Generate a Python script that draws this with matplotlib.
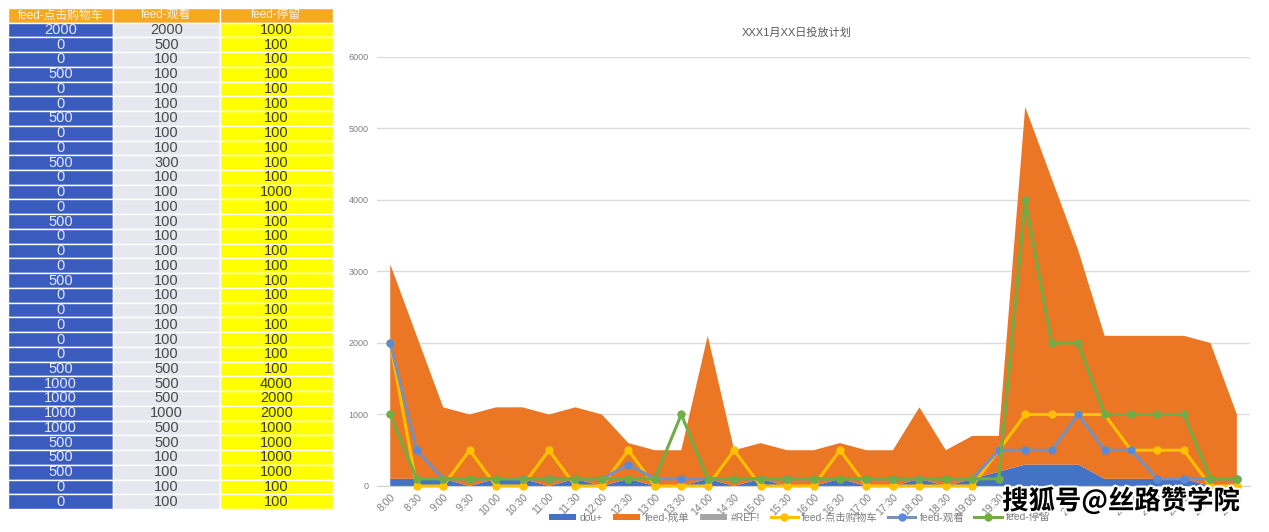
import numpy as np
import matplotlib
matplotlib.use('Agg')
import matplotlib.pyplot as plt
import matplotlib.patheffects as pe

plt.rcParams['font.family'] = ['Liberation Sans', 'Noto Sans CJK SC', 'DejaVu Sans']

# time slots, 8:00 .. 24:00 every half hour
times = ['8:00', '8:30', '9:00', '9:30', '10:00', '10:30', '11:00', '11:30',
         '12:00', '12:30', '13:00', '13:30', '14:00', '14:30', '15:00', '15:30',
         '16:00', '16:30', '17:00', '17:30', '18:00', '18:30', '19:00', '19:30',
         '20:00', '20:30', '21:00', '21:30', '22:00', '22:30', '23:00', '23:30',
         '24:00']

# area series (stacked)
dou = [100, 100, 100, 0, 100, 100, 0, 100, 0, 100, 0, 0, 100, 0, 100, 0,
       0, 100, 0, 0, 100, 0, 100, 200, 300, 300, 300, 100, 100, 100, 100, 0, 0]
feed_order = [3000, 2000, 1000, 1000, 1000, 1000, 1000, 1000, 1000, 500, 500, 500,
              2000, 500, 500, 500, 500, 500, 500, 500, 1000, 500, 600, 500,
              5000, 4000, 3000, 2000, 2000, 2000, 2000, 2000, 1000]
ref_err = [0] * len(times)

# line series (same as the table on the left)
click_cart = [2000, 0, 0, 500, 0, 0, 500, 0, 0, 500, 0, 0, 0, 500, 0, 0, 0,
              500, 0, 0, 0, 0, 0, 500, 1000, 1000, 1000, 1000, 500, 500, 500, 0, 0]
view = [2000, 500, 100, 100, 100, 100, 100, 100, 100, 300, 100, 100, 100, 100, 100, 100, 100,
        100, 100, 100, 100, 100, 100, 500, 500, 500, 1000, 500, 500, 100, 100, 100, 100]
stay = [1000, 100, 100, 100, 100, 100, 100, 100, 100, 100, 100, 1000, 100, 100, 100, 100, 100,
        100, 100, 100, 100, 100, 100, 100, 4000, 2000, 2000, 1000, 1000, 1000, 1000, 100, 100]

headers = ['feed-点击购物车', 'feed-观看', 'feed-停留']

fig = plt.figure(figsize=(12.69, 5.32), dpi=100)

# ---- table ----
tax = fig.add_axes([0.0063, 0.0432, 0.256, 0.942])
tax.axis('off')
cell_text = [[str(a), str(b), str(c)] for a, b, c in zip(click_cart, view, stay)]
col_bg = ['#3a5cbf', '#e7e7ef', '#ffff00']
col_fg = ['#e4e8f8', '#4a4a4a', '#3a3a3a']
tbl = tax.table(cellText=cell_text, colLabels=headers,
                cellColours=[col_bg] * len(cell_text),
                colColours=['#f6a823'] * 3,
                colWidths=[0.323, 0.329, 0.348],
                cellLoc='center', bbox=[0, 0, 1, 1])
tbl.auto_set_font_size(False)
for (r, c), cell in tbl.get_celld().items():
    cell.set_edgecolor('white')
    cell.set_linewidth(1.0)
    if r == 0:
        cell.get_text().set_color('#fdf3e0')
        cell.get_text().set_fontsize(8.5)
    else:
        cell.get_text().set_color(col_fg[c])
        cell.get_text().set_fontsize(10.5)

# ---- chart ----
ax = fig.add_axes([0.2971, 0.0865, 0.688, 0.8064])
x = np.arange(len(times))
areas = ax.stackplot(x, dou, feed_order, ref_err,
                     colors=['#4472C4', '#EB7624', '#A5A5A5'],
                     labels=['dou+', 'feed-成单', '#REF!'], linewidth=0)
l1, = ax.plot(x, click_cart, color='#FFC000', lw=2.2, marker='o', ms=5,
              label='feed-点击购物车', clip_on=False, zorder=3)
l2, = ax.plot(x, view, color='#7890bd', lw=2.2, marker='o', ms=5,
              mfc='#5b8ad5', mec='#5b8ad5', label='feed-观看', clip_on=False, zorder=3)
l3, = ax.plot(x, stay, color='#70AD47', lw=2.2, marker='o', ms=5,
              label='feed-停留', clip_on=False, zorder=4)

ax.set_xlim(-0.5, len(times) - 0.5)
ax.set_ylim(0, 6000)
ax.set_yticks(range(0, 6001, 1000))
ax.grid(axis='y', color='#dcdcdc', lw=1)
ax.set_axisbelow(True)
for s in ['top', 'right', 'left']:
    ax.spines[s].set_visible(False)
ax.spines['bottom'].set_color('#d0d0d0')
ax.tick_params(length=0, labelsize=6.5, colors='#7f7f7f')
ax.tick_params(axis='y', pad=6)
ax.tick_params(axis='x', labelsize=7.5, pad=4)
ax.set_xticks(x)
ax.set_xticklabels(times, rotation=45, ha='right', rotation_mode='anchor')

fig.text(0.628, 0.938, 'XXX1月XX日投放计划', ha='center', va='center',
         fontsize=8, color='#595959')

handles = list(areas) + [l1, l2, l3]
labels = ['dou+', 'feed-成单', '#REF!', 'feed-点击购物车', 'feed-观看', 'feed-停留']
fig.legend(handles, labels, loc='center', bbox_to_anchor=(0.63, 0.027), ncol=6,
           frameon=False, fontsize=7.5, handlelength=2.6, handleheight=0.6,
           columnspacing=1.0, handletextpad=0.4, labelcolor='#7f7f7f')

fig.text(0.977, 0.058, '搜狐号@丝路赞学院', ha='right', va='center', fontsize=19,
         fontweight='bold', family=['Noto Sans CJK SC'], color='black',
         path_effects=[pe.withStroke(linewidth=3, foreground='white')], zorder=10)

fig.savefig('out.png', dpi=100)
